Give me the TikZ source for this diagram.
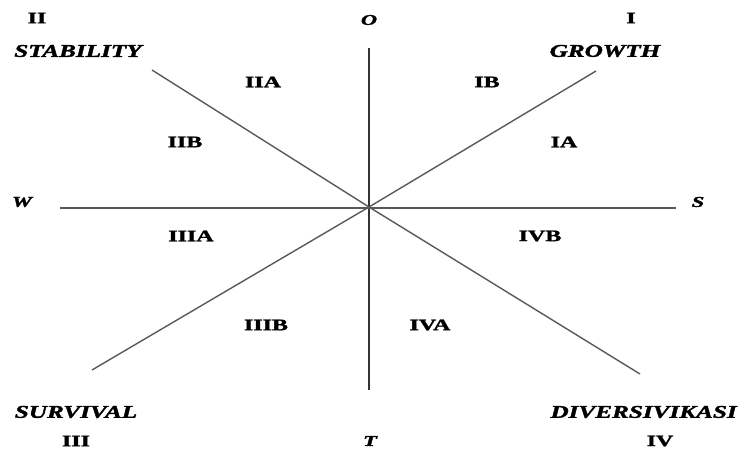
\documentclass[tikz,border=0pt]{standalone}
\usepackage{fontspec}
\setmainfont{Liberation Serif}
\newfontfamily\heavy[FakeBold=1.6]{Liberation Serif}
\newcommand{\wideq}[1]{\scalebox{1.5}[1]{\heavy\fontsize{16}{18}\selectfont\bfseries #1}}
\newcommand{\widest}[1]{\scalebox{1.4}[1]{\heavy\fontsize{18}{20}\selectfont\bfseries\itshape #1}}
\newcommand{\wideax}[1]{\scalebox{1.5}[1]{\heavy\fontsize{15}{17}\selectfont\bfseries\itshape #1}}
\begin{document}
\begin{tikzpicture}[x=1pt,y=-1pt,
  axis/.style={draw=black!80, line width=1.3pt},
  diag/.style={draw=black!65, line width=1.4pt},
  lbl/.style={inner sep=0pt}]
\useasboundingbox (0,0) rectangle (740,450);
\coordinate (c) at (369,207);
\coordinate (top) at (369,48);
\coordinate (bot) at (369,390);
\coordinate (left) at (60,208);
\coordinate (right) at (676,208);
\coordinate (ul) at (152,70);
\coordinate (lr) at (640,374);
\coordinate (ur) at (596,71);
\coordinate (ll) at (92,370);
\draw[axis] (top) -- (bot);
\draw[diag] (left) -- (right);
\draw[diag] (ul) -- (c) -- (lr);
\draw[diag] (ll) -- (c) -- (ur);
\node[lbl] (nII) at (37,18) {\wideq{II}};
\node[lbl] (stab) at (78,51) {\widest{STABILITY}};
\node[lbl] (O) at (369,20) {\wideax{O}};
\node[lbl] (nI) at (631,18) {\wideq{I}};
\node[lbl] (grow) at (605,51) {\widest{GROWTH}};
\node[lbl] (IIA) at (263,82) {\wideq{IIA}};
\node[lbl] (IB) at (487,82) {\wideq{IB}};
\node[lbl] (IIB) at (185,142) {\wideq{IIB}};
\node[lbl] (IA) at (564,142) {\wideq{IA}};
\node[lbl] (W) at (22,202) {\wideax{W}};
\node[lbl] (S) at (698,202) {\wideax{S}};
\node[lbl] (IIIA) at (191,236) {\wideq{IIIA}};
\node[lbl] (IVB) at (540,236) {\wideq{IVB}};
\node[lbl] (IIIB) at (266,325) {\wideq{IIIB}};
\node[lbl] (IVA) at (430,325) {\wideq{IVA}};
\node[lbl] (surv) at (76,412) {\widest{SURVIVAL}};
\node[lbl, anchor=east] (div) at (737,412) {\widest{DIVERSIVIKASI}};
\node[lbl] (nIII) at (76,441) {\wideq{III}};
\node[lbl] (T) at (370,441) {\wideax{T}};
\node[lbl] (nIV) at (660,441) {\wideq{IV}};
\end{tikzpicture}
\end{document}
